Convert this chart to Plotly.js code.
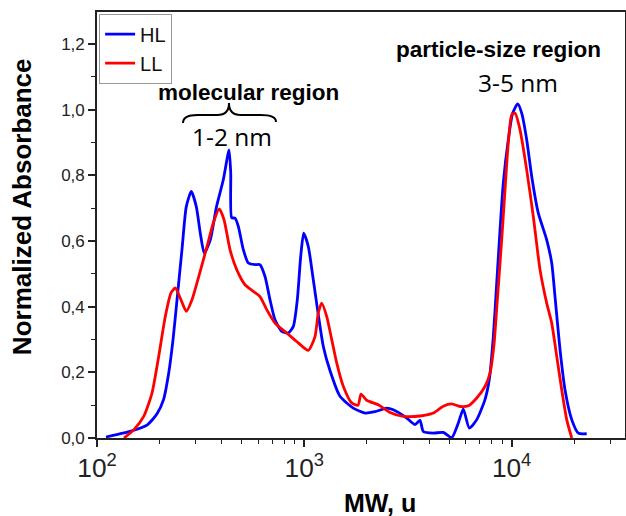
<!DOCTYPE html>
<html>
<head>
<meta charset="utf-8">
<script src="https://cdn.plot.ly/plotly-3.0.1.min.js"></script>
<style>html,body{margin:0;padding:0;background:#fff;}#chart{width:626px;height:516px;}</style>
</head>
<body>
<div id="chart"></div>
<script>
// HL series (MW in u, normalized absorbance)
const hlMW = [110.5,119.5,144.3,174.2,194.8,209.4,221.8,232.6,243.2,257.0,269.6,285.0,301.3,315.0,329.3,352.1,377.2,406.7,433.5,441.6,446.5,463.2,480.5,507.9,537.0,578.3,611.3,646.3,683.3,722.4,778.0,837.1,885.0,925.2,960.8,993.3,1045,1105,1168,1235,1331,1487,1723,1963,2193,2498,2688,3119,3420,3615,3750,4191,4683,5140,5534,5848,6251,6788,7440,7805,8161,8476,8793,9120,9640,10123,10700,11186,11825,12502,13454,14766,15613,16194,17123,18095,19497,20978,23027];
const hlAbs = [0.003,0.008,0.020,0.039,0.074,0.117,0.198,0.299,0.421,0.574,0.705,0.751,0.705,0.624,0.563,0.604,0.705,0.787,0.878,0.808,0.671,0.670,0.645,0.574,0.533,0.528,0.528,0.492,0.421,0.360,0.325,0.320,0.340,0.421,0.553,0.624,0.584,0.482,0.376,0.279,0.205,0.127,0.091,0.076,0.080,0.091,0.086,0.061,0.041,0.054,0.020,0.015,0.017,0.001,0.046,0.088,0.030,0.056,0.117,0.178,0.309,0.472,0.634,0.777,0.909,0.990,1.018,0.990,0.909,0.797,0.685,0.604,0.533,0.431,0.269,0.147,0.056,0.015,0.013];

// LL series
const llMW = [134.9,150.0,168.0,184.2,198.5,213.5,227.5,238.7,254.2,269.6,287.3,309.6,338.2,363.9,389.0,410.0,438.1,472.0,517.6,567.5,611.3,658.8,722.4,822.8,919.2,1045,1126,1168,1213,1283,1357,1434,1543,1693,1816,1877,2000,2275,2591,3004,3615,4191,4683,5140,5637,6182,6788,7440,7867,8223,8501,8959,9294,9640,10012,10385,10980,11825,12725,13709,14766,15613,16508,17446,18441,19497];
const llAbs = [0,0.024,0.066,0.137,0.249,0.370,0.442,0.457,0.421,0.386,0.421,0.492,0.580,0.655,0.698,0.665,0.574,0.513,0.467,0.447,0.431,0.391,0.350,0.320,0.294,0.267,0.309,0.381,0.411,0.370,0.299,0.228,0.157,0.107,0.100,0.134,0.115,0.101,0.078,0.066,0.067,0.076,0.097,0.104,0.096,0.098,0.122,0.157,0.198,0.284,0.406,0.604,0.756,0.899,0.985,0.990,0.939,0.817,0.675,0.513,0.411,0.350,0.249,0.147,0.056,0];

const seriesNames = ['HL', 'LL'];
const xTitle = 'MW, u';
const yTitle = 'Normalized Absorbance';
const labels = ['molecular region', '1-2 nm', 'particle-size region', '3-5 nm'];

const AR = 'Liberation Sans, Arial, sans-serif';

const traces = [
  {x: hlMW, y: hlAbs, name: seriesNames[0], type: 'scatter', mode: 'lines',
   line: {color: '#0000FF', width: 2.8, shape: 'spline', smoothing: 0.6}},
  {x: llMW, y: llAbs, name: seriesNames[1], type: 'scatter', mode: 'lines',
   line: {color: '#FF0000', width: 2.8, shape: 'spline', smoothing: 0.6}}
];

const layout = {
  width: 626, height: 516,
  margin: {l: 97, r: 1, t: 12, b: 78},
  paper_bgcolor: '#fff', plot_bgcolor: '#fff',
  separators: ', ',
  font: {family: AR, color: '#222'},
  showlegend: true,
  legend: {x: 0.004, y: 0.996, xanchor: 'left', yanchor: 'top',
           bgcolor: '#fff', bordercolor: '#999', borderwidth: 1,
           font: {family: AR, size: 20, color: '#111'}, tracegroupgap: 0},
  xaxis: {
    type: 'log', range: [2, 4.547], dtick: 1, exponentformat: 'power',
    showgrid: false, zeroline: false,
    showline: true, mirror: true, linecolor: '#222', linewidth: 1.6,
    ticks: 'outside', ticklen: 7, tickwidth: 1.5, tickcolor: '#222',
    tickfont: {family: AR, size: 21, color: '#222'},
    minor: {ticks: 'outside', ticklen: 4, tickwidth: 1.3, tickcolor: '#222', dtick: 'D1', showgrid: false}
  },
  yaxis: {
    range: [0, 1.298], dtick: 0.2, tick0: 0, tickformat: '.1f',
    showgrid: false, zeroline: false,
    showline: true, mirror: true, linecolor: '#222', linewidth: 1.6,
    ticks: 'outside', ticklen: 7, tickwidth: 1.5, tickcolor: '#222',
    tickfont: {family: AR, size: 17, color: '#222'},
    minor: {ticks: 'outside', ticklen: 4, tickwidth: 1.3, tickcolor: '#222', dtick: 0.1, showgrid: false}
  },
  annotations: [
    {text: '<b>' + xTitle + '</b>', xref: 'paper', yref: 'paper', x: 0.536, y: -0.1526,
     xanchor: 'center', yanchor: 'middle', showarrow: false,
     font: {family: AR, size: 25, color: '#000'}},
    {text: '<b>' + yTitle + '</b>', xref: 'paper', yref: 'paper', x: -0.142, y: 0.542,
     xanchor: 'center', yanchor: 'middle', textangle: -90, showarrow: false,
     font: {family: AR, size: 26, color: '#000'}},
    {text: '<b>' + labels[0] + '</b>', xref: 'paper', yref: 'paper', x: 0.286, y: 0.8106,
     xanchor: 'center', yanchor: 'middle', showarrow: false,
     font: {family: AR, size: 22.5, color: '#000'}},
    {text: labels[1], xref: 'paper', yref: 'paper', x: 0.2566, y: 0.7073,
     xanchor: 'center', yanchor: 'middle', showarrow: false,
     font: {family: 'Open Sans, sans-serif', size: 24.5, color: '#000'}},
    {text: '<b>' + labels[2] + '</b>', xref: 'paper', yref: 'paper', x: 0.7595, y: 0.9124,
     xanchor: 'center', yanchor: 'middle', showarrow: false,
     font: {family: AR, size: 22.5, color: '#000'}},
    {text: labels[3], xref: 'paper', yref: 'paper', x: 0.7973, y: 0.834,
     xanchor: 'center', yanchor: 'middle', showarrow: false,
     font: {family: 'Open Sans, sans-serif', size: 24.5, color: '#000'}}
  ],
  shapes: [
    {type: 'path', xref: 'paper', yref: 'paper',
     path: 'M 0.1629,0.7394 Q 0.1629,0.7582 0.19,0.7582 L 0.228,0.7582 Q 0.25,0.7582 0.25,0.7864 Q 0.25,0.7582 0.272,0.7582 L 0.31,0.7582 Q 0.339,0.7582 0.339,0.7418',
     line: {color: '#000', width: 2}}
  ]
};

Plotly.newPlot('chart', traces, layout, {displayModeBar: false});
</script>
</body>
</html>
